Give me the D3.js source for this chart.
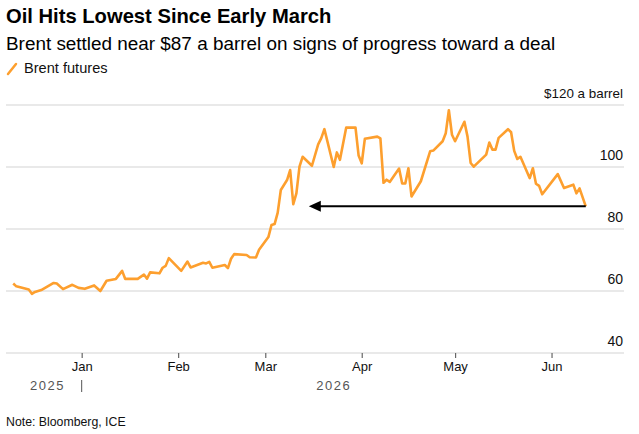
<!DOCTYPE html>
<html>
<head>
<meta charset="utf-8">
<script src="https://cdn.jsdelivr.net/npm/d3@7"></script>
<style>
body{margin:0;background:#fff;}
text{font-family:"Liberation Sans",Arial,sans-serif;}
</style>
</head>
<body>
<div id="grafico"></div>
<script>
// Brent futures, daily settles
const dates=["2025-12-10","2025-12-11","2025-12-15","2025-12-16","2025-12-17","2025-12-19","2025-12-23","2025-12-24","2025-12-26","2025-12-29","2025-12-31",
"2026-01-02","2026-01-05","2026-01-07","2026-01-09","2026-01-12","2026-01-14","2026-01-15","2026-01-19","2026-01-21","2026-01-22","2026-01-23","2026-01-26","2026-01-27","2026-01-28","2026-01-29",
"2026-02-02","2026-02-04","2026-02-05","2026-02-09","2026-02-10","2026-02-11","2026-02-12","2026-02-16","2026-02-17","2026-02-18","2026-02-19","2026-02-23","2026-02-24","2026-02-26","2026-02-27",
"2026-03-02","2026-03-03","2026-03-04","2026-03-05","2026-03-06","2026-03-08","2026-03-09","2026-03-10","2026-03-11","2026-03-12","2026-03-13","2026-03-16","2026-03-18","2026-03-19","2026-03-20","2026-03-23","2026-03-24","2026-03-25","2026-03-27","2026-03-30","2026-03-31",
"2026-04-01","2026-04-02","2026-04-06","2026-04-07","2026-04-08","2026-04-09","2026-04-10","2026-04-13","2026-04-14","2026-04-15","2026-04-16","2026-04-17","2026-04-20","2026-04-23","2026-04-24","2026-04-27","2026-04-28","2026-04-29","2026-04-30",
"2026-05-01","2026-05-04","2026-05-05","2026-05-06","2026-05-07","2026-05-11","2026-05-12","2026-05-13","2026-05-14","2026-05-15","2026-05-18","2026-05-19","2026-05-20","2026-05-21","2026-05-22","2026-05-25","2026-05-26","2026-05-27","2026-05-28","2026-05-29",
"2026-06-03","2026-06-05","2026-06-08","2026-06-09","2026-06-10","2026-06-12"];
const prices=[62.4,61.5,60.5,59.1,59.7,60.3,62.6,62.4,60.6,62.0,
61.0,60.7,61.8,60.0,63.3,63.9,66.5,63.9,63.9,65.3,
64.0,66.0,65.7,67.5,68.1,70.6,66.5,69.5,67.6,69.1,
68.9,69.4,67.5,68.4,67.4,70.4,71.9,71.6,70.9,70.8,
73.3,77.4,81.3,81.6,85.3,92.6,95.8,99.0,88.0,91.5,
100.1,103.3,100.4,107.3,109.3,112.2,100.0,104.7,102.3,112.7,
112.7,103.7,101.2,109.1,109.8,109.2,94.9,95.9,95.2,99.5,
94.7,94.7,99.6,90.5,95.4,105.1,105.3,108.3,110.9,118.3,
110.4,108.3,114.6,109.8,101.3,100.1,104.0,107.9,105.6,105.6,
109.4,112.2,111.2,105.2,102.6,103.3,96.4,99.6,94.6,93.9,
91.2,97.7,93.2,94.3,91.5,93.1,87.3];

const yTicks=[40,60,80,100,120];
const monthTicks=["2026-01-01","2026-02-01","2026-03-01","2026-04-01","2026-05-01","2026-06-01"];
const monthLabels=["Jan","Feb","Mar","Apr","May","Jun"];
const yearLabels=["2025","2026"];
const arrowTo="2026-03-15"; // arrow points back to early March level

const title="Oil Hits Lowest Since Early March";
const subtitle="Brent settled near $87 a barrel on signs of progress toward a deal";
const legendLabel="Brent futures";
const note="Note: Bloomberg, ICE";

let graficar=()=>{
    const W=639, H=434;
    const orange="#fd9f2e";
    const parse=d3.utcParse("%Y-%m-%d");

    let data=dates.map((d,i)=>({date:parse(d),value:prices[i]}));

    let svg=d3.select("#grafico").append("svg")
        .attr("width",W).attr("height",H);

    // titles
    svg.append("text").attr("x",6).attr("y",23)
        .attr("font-size","20.2px").attr("font-weight","bold").attr("fill","#000")
        .text(title);
    svg.append("text").attr("x",6).attr("y",50)
        .attr("font-size","18.9px").attr("fill","#000")
        .text(subtitle);

    // legend
    svg.append("line").attr("x1",8).attr("y1",74).attr("x2",16).attr("y2",64)
        .attr("stroke",orange).attr("stroke-width",2.5).attr("stroke-linecap","round");
    svg.append("text").attr("x",24).attr("y",73)
        .attr("font-size","14.6px").attr("fill","#111")
        .text(legendLabel);

    // scales
    let x=d3.scaleUtc()
        .domain([Date.UTC(2025,11,8),Date.UTC(2026,5,23)])
        .range([7,620]);
    let y=d3.scaleLinear().domain([40,120]).range([353,105]);

    // gridlines + right labels
    svg.append("g").selectAll("line").data(yTicks).enter().append("line")
        .attr("x1",6).attr("x2",624)
        .attr("y1",d=>y(d)).attr("y2",d=>y(d))
        .attr("stroke","#e2e2e2").attr("stroke-width",1.5);
    svg.append("g").selectAll("text").data(yTicks).enter().append("text")
        .attr("x",623).attr("y",d=>y(d)-7)
        .attr("text-anchor","end").attr("font-size",d=>d===120?"13.4px":"14px").attr("fill","#111")
        .text(d=>d===120?"$120 a barrel":d);

    // x axis
    let xAxis=svg.append("g")
        .attr("transform",`translate(0,${y(40)})`)
        .call(d3.axisBottom(x)
            .tickValues(monthTicks.map(parse))
            .tickSize(5).tickPadding(4)
            .tickFormat((d,i)=>monthLabels[i]));
    xAxis.select(".domain").remove();
    xAxis.selectAll("line").attr("stroke","#666").attr("stroke-width",1.2);
    xAxis.selectAll("text").attr("font-size","13px").attr("fill","#111")
        .attr("font-family","Liberation Sans, Arial, sans-serif");

    // year labels
    let first=data[0].date, last=data[data.length-1].date, jan=parse(monthTicks[0]);
    svg.append("text").attr("x",(x(first)+x(jan))/2).attr("y",390)
        .attr("text-anchor","middle").attr("font-size","13px").attr("fill","#555")
        .attr("letter-spacing","1.5px").text(yearLabels[0]);
    svg.append("text").attr("x",(x(jan)+x(last))/2).attr("y",390)
        .attr("text-anchor","middle").attr("font-size","13px").attr("fill","#555")
        .attr("letter-spacing","1.5px").text(yearLabels[1]);
    svg.append("line").attr("x1",x(jan)).attr("x2",x(jan)).attr("y1",380).attr("y2",392)
        .attr("stroke","#555").attr("stroke-width",1);

    // the line
    let line=d3.line().x(d=>x(d.date)).y(d=>y(d.value));
    svg.append("path").datum(data)
        .attr("d",line).attr("fill","none")
        .attr("stroke",orange).attr("stroke-width",2.6)
        .attr("stroke-linejoin","round");

    // arrow
    let endV=data[data.length-1].value;
    let ax1=x(last), ax2=x(parse(arrowTo)), ay=y(endV);
    svg.append("line").attr("x1",ax1).attr("x2",ax2+9).attr("y1",ay).attr("y2",ay)
        .attr("stroke","#000").attr("stroke-width",2);
    svg.append("path")
        .attr("d",`M${ax2},${ay} L${ax2+12},${ay-5.5} L${ax2+12},${ay+5.5} Z`)
        .attr("fill","#000");

    // note
    svg.append("text").attr("x",6).attr("y",426)
        .attr("font-size","12.3px").attr("fill","#111")
        .text(note);
}
graficar();
</script>
</body>
</html>
